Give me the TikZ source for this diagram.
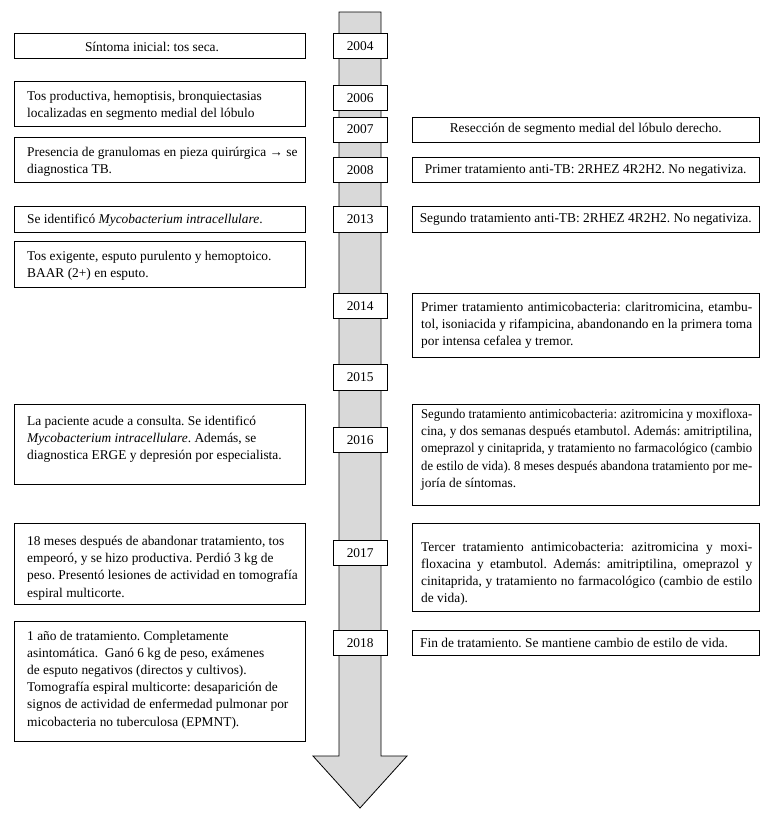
\documentclass[tikz,border=0pt]{standalone}
\usepackage{graphicx}
\usepackage{fontspec}
\setmainfont{Liberation Serif}
\frenchspacing
\newcommand\bodyfont{\fontsize{13.4}{17.2}\selectfont\frenchspacing}
\newsavebox\jbox
\newcommand\jline[1]{\sbox\jbox{#1}\ifdim\wd\jbox>\linewidth\resizebox{\linewidth}{\height}{\usebox\jbox}\else\makebox[\linewidth][s]{#1}\fi\\}
\definecolor{arrowgray}{HTML}{D9D9D9}
\tikzset{
  bx/.style={draw=black, line width=0.8pt, fill=white, inner sep=0pt, anchor=north west},
  txt/.style={inner sep=0pt, anchor=base west},
  arrowst/.style={draw=black, line width=0.8pt, fill=arrowgray, line join=miter},
}
% name, x1, y1, x2, y2, text
\newcommand\mkbox[6]{\node[bx, minimum width={#4-#2}, minimum height={#5-#3}] (#1) at (#2,#3) {#6};}
\newcommand\ltext[4]{\node[txt] (#1) at (#2,#3) {\parbox[t]{290pt}{\raggedright\bodyfont #4}};}
\newcommand\rtext[4]{\node[txt] (#1) at (#2,#3) {\parbox[t]{331pt}{\bodyfont #4}};}
\begin{document}
\begin{tikzpicture}[x=1pt, y=-1pt, font=\bodyfont]
\useasboundingbox (0,0) rectangle (775,817);
\fill[white] (0,0) rectangle (775,817);
% timeline arrow
\draw[arrowst] (339,12) -- (381,12) -- (381,756) -- (407,756) -- (360,808) -- (313,756) -- (339,756) -- cycle;
% year boxes
\mkbox{y2004}{333}{33.3}{386.5}{58.3}{2004}
\mkbox{y2006}{333}{85}{386.5}{110}{2006}
\mkbox{y2007}{333}{116.7}{386.5}{141.7}{2007}
\mkbox{y2008}{333}{157.3}{386.5}{182.3}{2008}
\mkbox{y2013}{333}{206}{386.5}{231.5}{2013}
\mkbox{y2014}{333}{293}{386.5}{318}{2014}
\mkbox{y2015}{333}{364}{386.5}{389.5}{2015}
\mkbox{y2016}{333}{427}{386.5}{452}{2016}
\mkbox{y2017}{333}{540}{386.5}{565}{2017}
\mkbox{y2018}{333}{630}{386.5}{655}{2018}
% left boxes
\mkbox{l1}{14}{33.3}{305}{58.3}{}
\node[inner sep=0pt] (l1t) at (152,46.5) {Síntoma inicial: tos seca.};
\mkbox{l2}{14}{81}{305}{126}{}
\ltext{l2t}{27}{100}{Tos productiva, hemoptisis, bronquiectasias\\localizadas en segmento medial del lóbulo}
\mkbox{l3}{14}{137}{305}{182}{}
\ltext{l3t}{27}{156.5}{Presencia de granulomas en pieza quirúrgica → se\\diagnostica TB.}
\mkbox{l4}{14}{206}{305}{231.5}{}
\node[txt] (l4t) at (27,223) {Se identificó \textit{Mycobacterium intracellulare}.};
\mkbox{l5}{14}{241}{305}{287}{}
\ltext{l5t}{27}{260.5}{Tos exigente, esputo purulento y hemoptoico.\\BAAR (2+) en esputo.}
\mkbox{l6}{14}{404}{305}{484}{}
\ltext{l6t}{27}{425}{La paciente acude a consulta. Se identificó\\\textit{Mycobacterium intracellulare}. Además, se\\diagnostica ERGE y depresión por especialista.}
\mkbox{l7}{14}{523}{305}{604}{}
\ltext{l7t}{27}{545.5}{18 meses después de abandonar tratamiento, tos\\empeoró, y se hizo productiva. Perdió 3 kg de\\peso. Presentó lesiones de actividad en tomografía\\espiral multicorte.}
\mkbox{l8}{14}{621}{305}{741}{}
\ltext{l8t}{27}{640}{1 año de tratamiento. Completamente\\asintomática.\ \ Ganó 6 kg de peso, exámenes\\de esputo negativos (directos y cultivos).\\Tomografía espiral multicorte: desaparición de\\signos de actividad de enfermedad pulmonar por\\micobacteria no tuberculosa (EPMNT).}
% right boxes
\mkbox{r1}{411.7}{116.7}{759}{141.7}{Resección de segmento medial del lóbulo derecho.}
\mkbox{r2}{411.7}{157.3}{759}{182.3}{Primer tratamiento anti-TB: 2RHEZ 4R2H2. No negativiza.}
\mkbox{r3}{411.7}{206}{759}{231.5}{Segundo tratamiento anti-TB: 2RHEZ 4R2H2. No negativiza.}
\mkbox{r4}{411.7}{293}{759}{357}{}
\rtext{r4t}{421}{311}{\jline{Primer tratamiento antimicobacteria: claritromicina, etambu-}\jline{tol, isoniacida y rifampicina, abandonando en la primera toma}por intensa cefalea y tremor.}
\mkbox{r5}{411.7}{404}{759}{505}{}
\rtext{r5t}{421}{418.5}{\jline{Segundo tratamiento antimicobacteria: azitromicina y moxifloxa-}\jline{cina, y dos semanas después etambutol. Además: amitriptilina,}\jline{omeprazol y cinitaprida, y tratamiento no farmacológico (cambio}\jline{de estilo de vida). 8 meses después abandona tratamiento por me-}joría de síntomas.}
\mkbox{r6}{411.7}{523}{759}{611}{}
\rtext{r6t}{421}{551}{\jline{Tercer tratamiento antimicobacteria: azitromicina y moxi-}\jline{floxacina y etambutol. Además: amitriptilina, omeprazol y}\jline{cinitaprida, y tratamiento no farmacológico (cambio de estilo}de vida).}
\mkbox{r7}{411.7}{630}{759}{655}{}
\node[txt] (r7t) at (420,647) {Fin de tratamiento. Se mantiene cambio de estilo de vida.};
\end{tikzpicture}
\end{document}
